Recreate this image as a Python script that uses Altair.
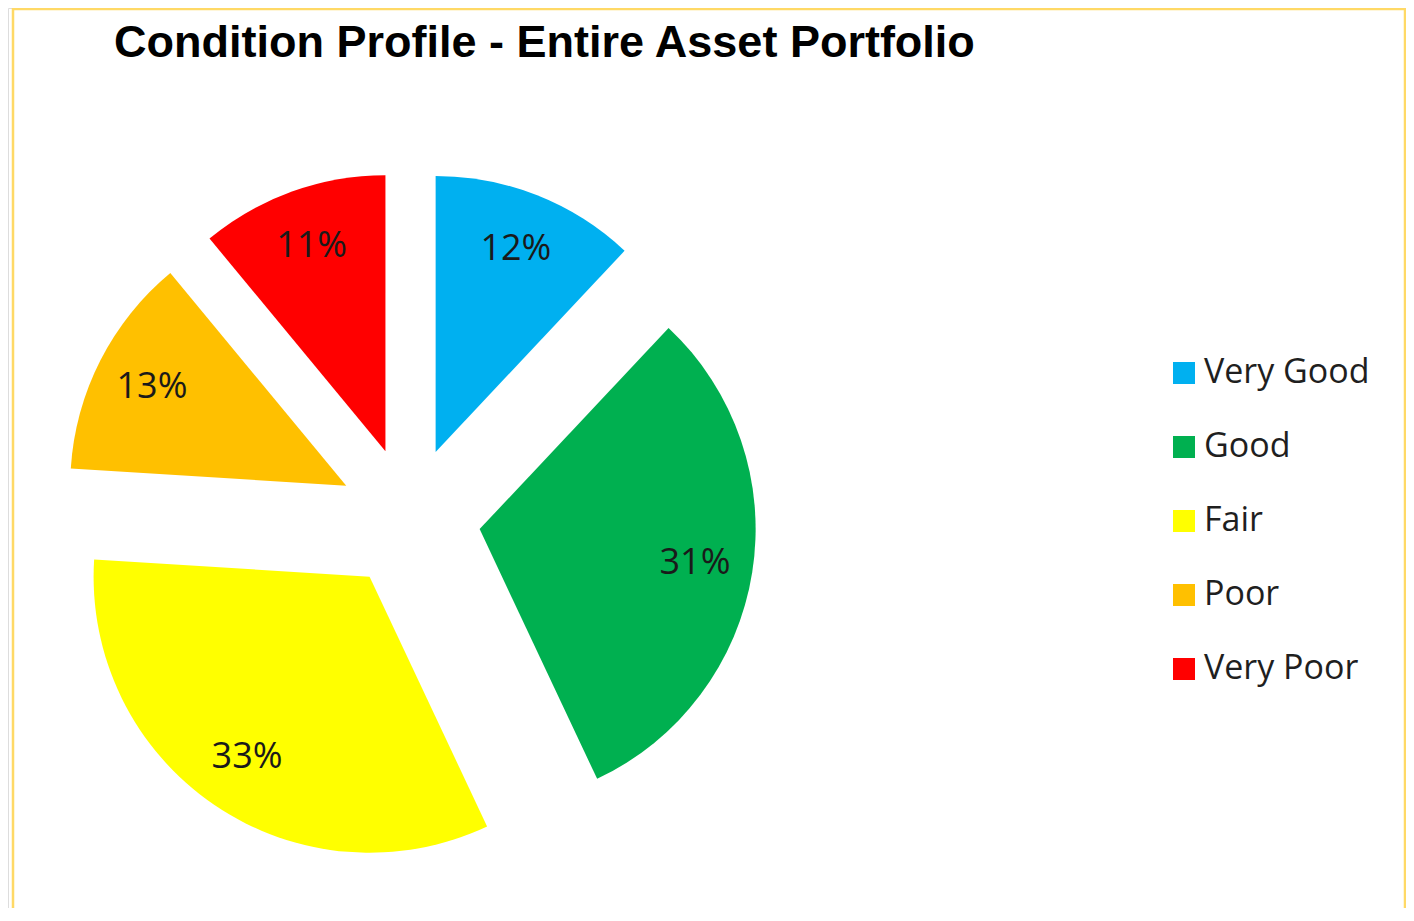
import altair as alt
import pandas as pd

# Data
categories = ["Very Good", "Good", "Fair", "Poor", "Very Poor"]
values = [12, 31, 33, 13, 11]
colors = ["#00B0F0", "#00B050", "#FFFF00", "#FFC000", "#FF0000"]

df = pd.DataFrame({"condition": categories, "value": values, "idx": list(range(len(categories)))})

EXPLODE = 71
R_OUT = 276
CX, CY = 401.5, 510

base = (
    alt.Chart(df)
    .transform_joinaggregate(total="sum(value)")
    .transform_window(cum="sum(value)", sort=[alt.SortField("idx")], frame=[None, 0])
    .transform_calculate(
        f0="(datum.cum - datum.value) / datum.total",
        f1="datum.cum / datum.total",
        fm="(datum.cum - datum.value / 2) / datum.total",
        label="datum.value + '%'",
    )
    .transform_calculate(
        dx=f"{EXPLODE} * sin(datum.fm * 2 * PI)",
        dy=f"-{EXPLODE} * cos(datum.fm * 2 * PI)",
    )
)

theta_scale = alt.Scale(domain=[0, 1], range=[0, 6.283185307179586])
pos = dict(
    x=alt.value(CX),
    y=alt.value(CY),
    xOffset=alt.XOffset("dx:Q", scale=None),
    yOffset=alt.YOffset("dy:Q", scale=None),
)

arcs = base.mark_arc(outerRadius=R_OUT).encode(
    theta=alt.Theta("f0:Q", scale=theta_scale, stack=None),
    theta2="f1:Q",
    color=alt.Color(
        "condition:N",
        scale=alt.Scale(domain=categories, range=colors),
        sort=categories,
        legend=alt.Legend(
            title=None,
            orient="none",
            legendX=1159,
            legendY=348,
            symbolType="square",
            symbolSize=484,
            symbolStrokeWidth=0,
            labelFont="Open Sans",
            labelFontSize=34,
            labelColor="#1f1f1f",
            labelOffset=3,
            labelLimit=400,
            rowPadding=40,
            padding=0,
        ),
    ),
    **pos,
)

texts = base.mark_text(
    radius=218, font="Open Sans", fontSize=36, color="#1a1a1a"
).encode(
    theta=alt.Theta("fm:Q", scale=theta_scale, stack=None),
    text="label:N",
    **pos,
)

border_df = pd.DataFrame({"side": ["left", "top", "right"]})
left = alt.Chart(border_df).transform_filter("datum.side == 'left'").mark_rule(
    color="#FFD966", strokeWidth=2.5
).encode(x=alt.value(5), y=alt.value(0), y2=alt.value(900))
top = alt.Chart(border_df).transform_filter("datum.side == 'top'").mark_rule(
    color="#FFD966", strokeWidth=2.5
).encode(x=alt.value(5), x2=alt.value(1397), y=alt.value(1))
right = alt.Chart(border_df).transform_filter("datum.side == 'right'").mark_rule(
    color="#FFD966", strokeWidth=2.5
).encode(x=alt.value(1397), y=alt.value(0), y2=alt.value(900))

chart = (
    alt.layer(arcs, texts, left, top, right)
    .properties(
        width=1398,
        height=900,
        padding=0,
        autosize=alt.AutoSizeParams(type="none"),
        title=alt.Title(
            "Condition Profile - Entire Asset Portfolio",
            anchor="start",
            font="Liberation Sans",
            fontSize=45,
            fontWeight="bold",
            color="#000000",
            baseline="alphabetic",
            offset=0,
            dx=106,
            dy=95,
        ),
    )
    .configure_view(stroke=None)
    .configure(background="white")
)

chart.save("out.html", embed_options={"renderer": "svg", "actions": False})
